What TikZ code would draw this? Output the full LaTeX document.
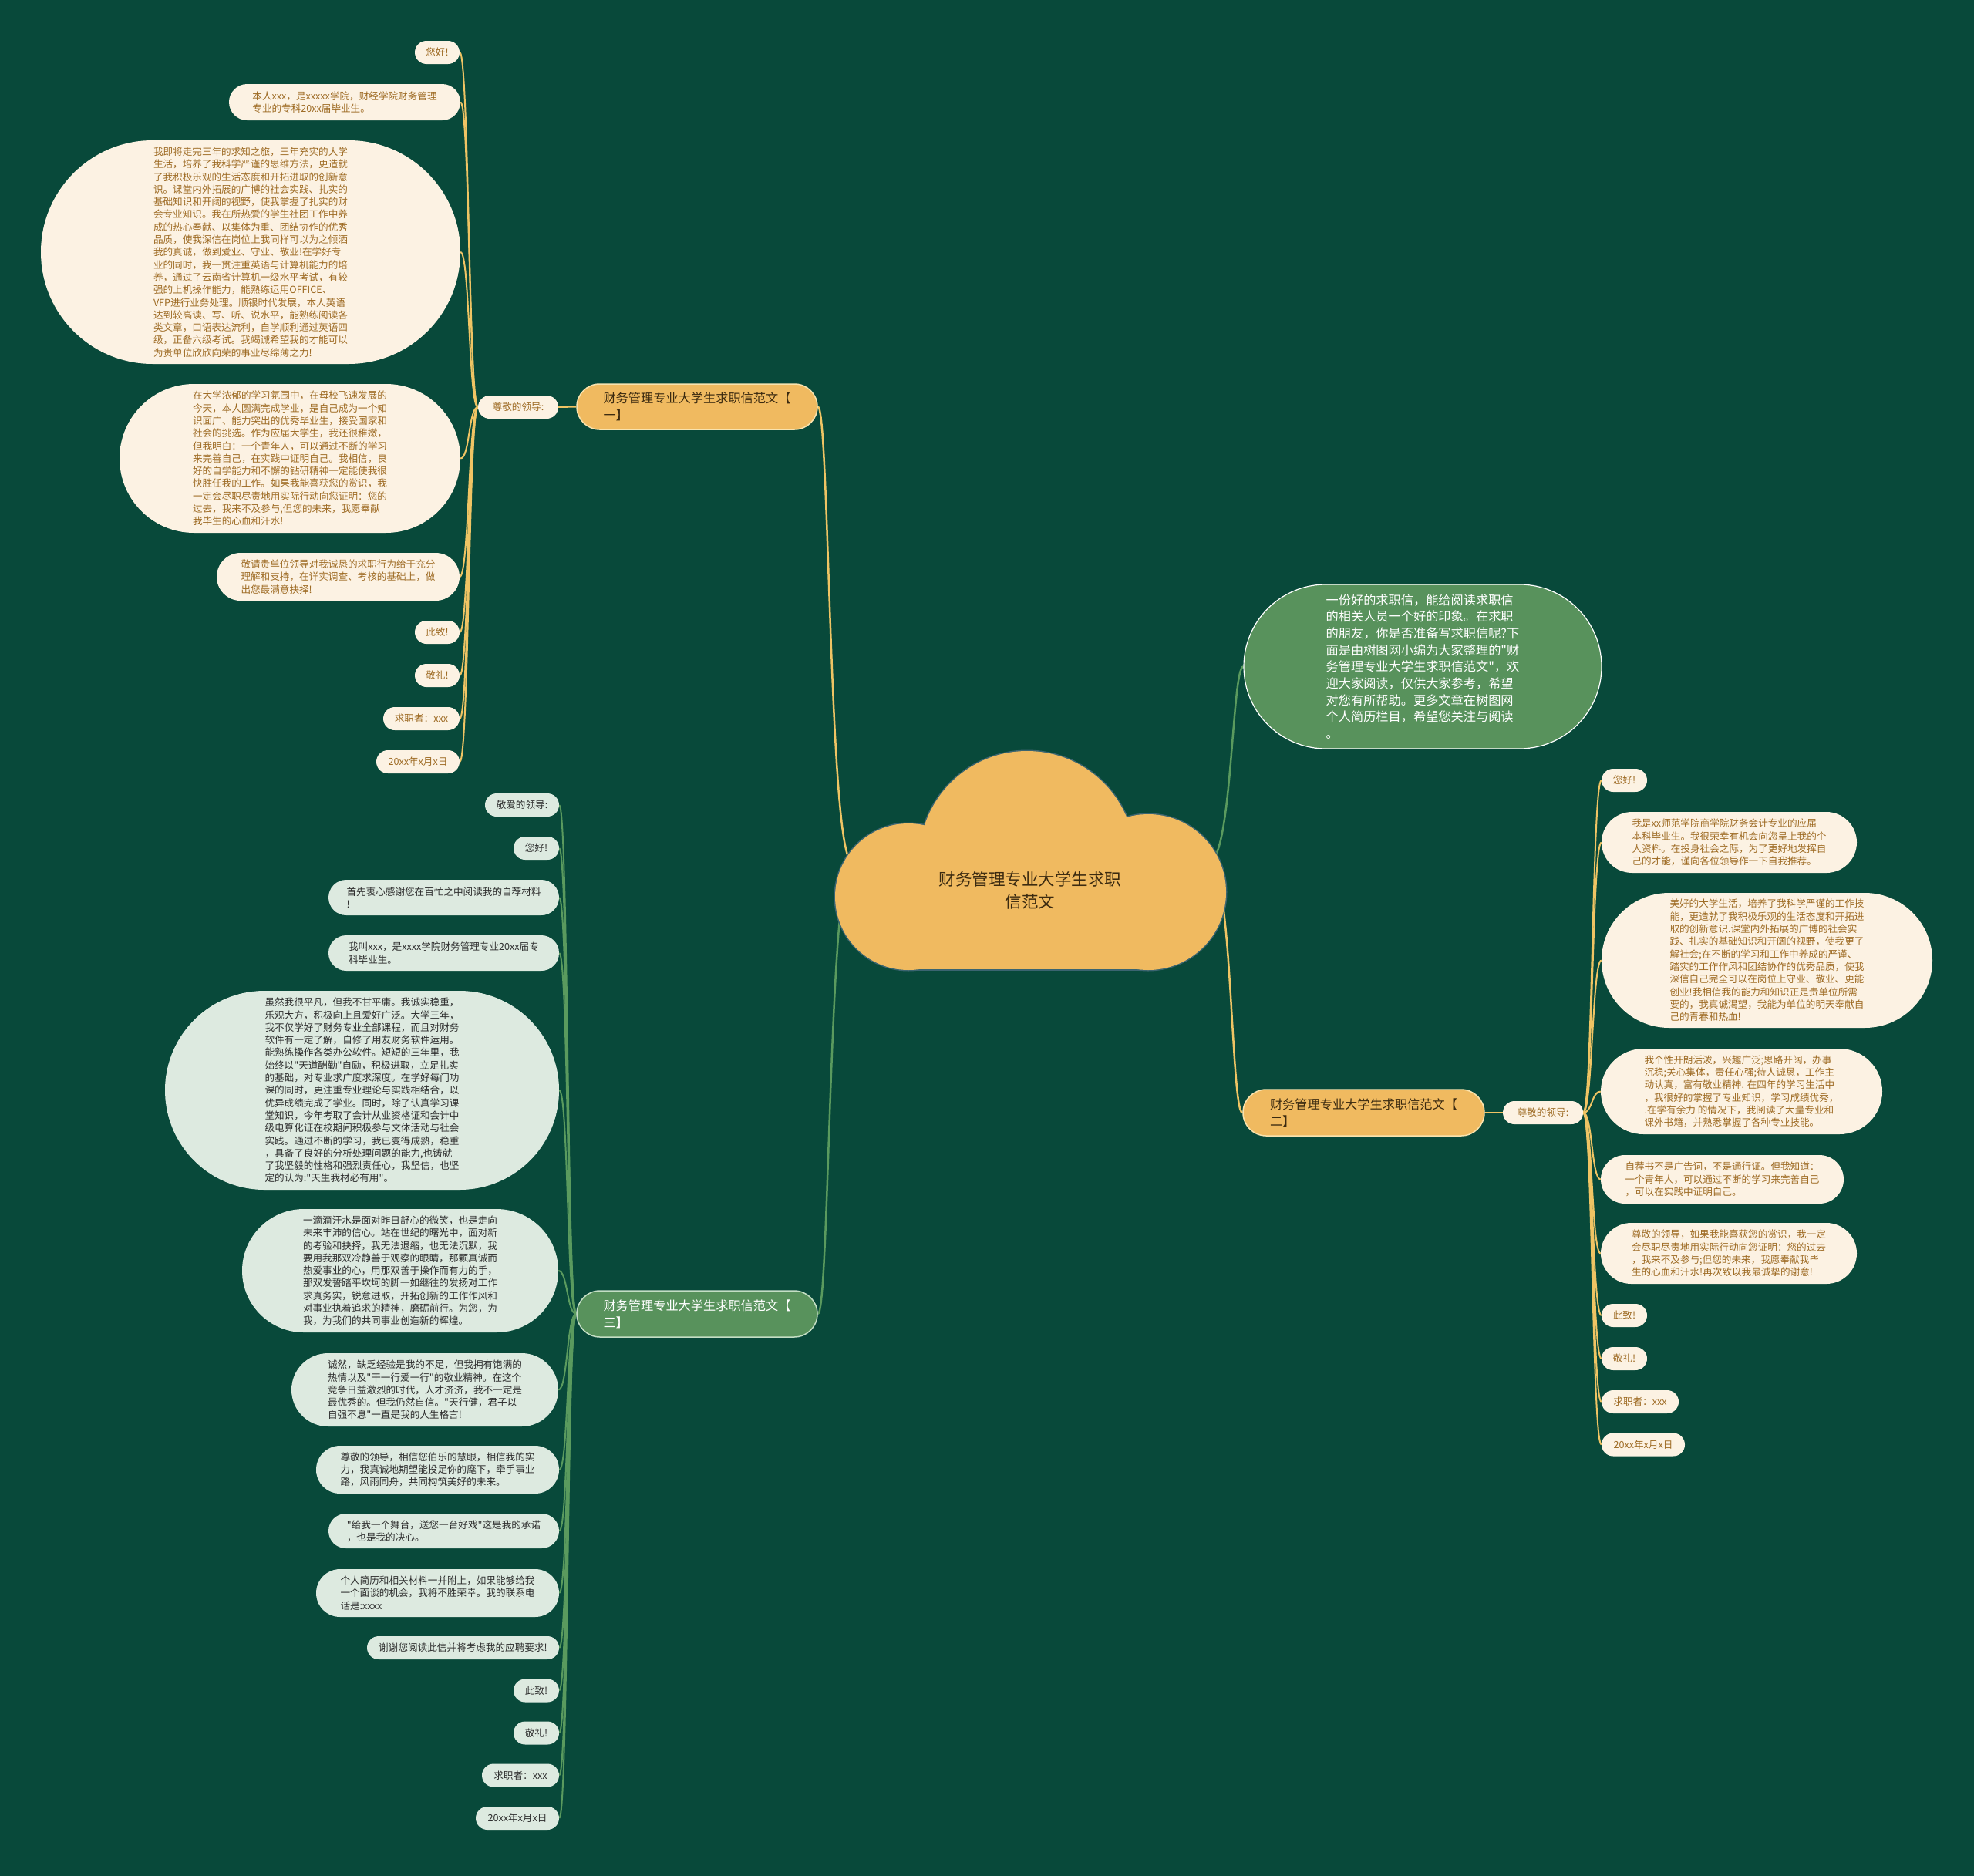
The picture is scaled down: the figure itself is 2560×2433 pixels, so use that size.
\documentclass[tikz,border=0pt]{standalone}
\usepackage{fontspec}
\setmainfont{Noto Sans CJK SC}
\newfontfamily\cjkfont{Noto Sans CJK SC}
\usetikzlibrary{shapes.misc}
\pgfdeclarelayer{bg}
\pgfdeclarelayer{lines}
\pgfsetlayers{bg,lines,main}
\definecolor{cbg}{HTML}{08493A}
\definecolor{corange}{HTML}{F0BA60}
\definecolor{cobord}{HTML}{F9E3AE}
\definecolor{ccream}{HTML}{FCF2E3}
\definecolor{cbrown}{HTML}{9E6B24}
\definecolor{cbtext}{HTML}{3B2A10}
\definecolor{cmgreen}{HTML}{58925C}
\definecolor{cgbord}{HTML}{C4DEC4}
\definecolor{clgreen}{HTML}{DDEAE0}
\definecolor{cdark}{HTML}{2E2E2E}
\definecolor{cyline}{HTML}{EFC464}
\definecolor{cgline}{HTML}{5A9A5E}
\definecolor{ccloud}{HTML}{3A6470}
\newcommand\myleaffont{\cjkfont\fontsize{12.6}{16.3}\selectfont}
\newcommand\mybranchfont{\cjkfont\fontsize{16.2}{21.7}\selectfont}
\newcommand\mycenterfont{\cjkfont\fontsize{21.5}{29}\selectfont}
\begin{document}
\begin{tikzpicture}[x=1pt,y=-1pt,
  sz/.style 2 args={minimum width=#1, minimum height=#2},
  leafbase/.style={rounded rectangle, inner sep=0pt, align=left, font=\myleaffont},
  oleaf/.style={leafbase, fill=ccream, text=cbrown},
  gleaf/.style={leafbase, fill=clgreen, text=cdark},
  obranch/.style={rounded rectangle, inner sep=0pt, align=left, font=\mybranchfont, fill=corange, draw=cobord, line width=1.5pt, text=cbtext},
  gbranch/.style={rounded rectangle, inner sep=0pt, align=left, font=\mybranchfont, fill=cmgreen, draw=cgbord, line width=1.5pt, text=white},
  introbox/.style={rounded rectangle, inner sep=0pt, align=left, font=\mybranchfont, fill=cmgreen, draw=white, line width=1.2pt, text=white},
  oline/.style={draw=cyline, line width=2pt},
  gline/.style={draw=cgline, line width=2pt},
  mainoline/.style={draw=cyline, line width=2.5pt},
  maingline/.style={draw=cgline, line width=2.5pt},
  cloudedge/.style={draw=ccloud, line width=3pt},
  cloudfill/.style={fill=corange}
]
\useasboundingbox (0,0) rectangle (2560,2433);
\begin{pgfonlayer}{bg}
\fill[cbg] (0,0) rectangle (2560,2433);
\end{pgfonlayer}

% ---------- centre cloud ----------
\path[cloudedge] (1332,1114) circle[radius=140];
\path[cloudedge] (1178,1163) circle[radius=95];
\path[cloudedge] (1489,1157) circle[radius=101];
\path[cloudedge] (1190,1143) rectangle (1480,1257);
\path[cloudfill] (1332,1114) circle[radius=140];
\path[cloudfill] (1178,1163) circle[radius=95];
\path[cloudfill] (1489,1157) circle[radius=101];
\path[cloudfill] (1190,1143) rectangle (1480,1257);
\node[font=\mycenterfont, text=cbtext, align=center] (center) at (1336,1155) {财务管理专业大学生求职\\信范文};
\coordinate (cL) at (1105,1117);
\coordinate (cR) at (1568,1117);

% ---------- branch 1 (left, orange) ----------
\node[obranch, sz={312}{59}] (B1) at (904,527.5) {财务管理专业大学生求职信范文【\\一】};
\node[oleaf, sz={104}{30}] (J1) at (672,528) {尊敬的领导:};
\node[oleaf, sz={58}{30}] (L1a) at (567,68) {您好!};
\node[oleaf, sz={300}{47}] (L1b) at (447,132.5) {本人xxx，是xxxxx学院，财经学院财务管理\\专业的专科20xx届毕业生。};
\node[oleaf, sz={544}{290}] (L1c) at (325,327) {我即将走完三年的求知之旅，三年充实的大学\\生活，培养了我科学严谨的思维方法，更造就\\了我积极乐观的生活态度和开拓进取的创新意\\识。课堂内外拓展的广博的社会实践、扎实的\\基础知识和开阔的视野，使我掌握了扎实的财\\会专业知识。我在所热爱的学生社团工作中养\\成的热心奉献、以集体为重、团结协作的优秀\\品质，使我深信在岗位上我同样可以为之倾洒\\我的真诚，做到爱业、守业、敬业!在学好专\\业的同时，我一贯注重英语与计算机能力的培\\养，通过了云南省计算机一级水平考试，有较\\强的上机操作能力，能熟练运用OFFICE、\\VFP进行业务处理。顺银时代发展，本人英语\\达到较高读、写、听、说水平，能熟练阅读各\\类文章，口语表达流利，自学顺利通过英语四\\级，正备六级考试。我竭诚希望我的才能可以\\为贵单位欣欣向荣的事业尽绵薄之力!};
\node[oleaf, sz={442}{193}] (L1d) at (376,594.5) {在大学浓郁的学习氛围中，在母校飞速发展的\\今天，本人圆满完成学业，是自己成为一个知\\识面广、能力突出的优秀毕业生，接受国家和\\社会的挑选。作为应届大学生，我还很稚嫩，\\但我明白：一个青年人，可以通过不断的学习\\来完善自己，在实践中证明自己。我相信，良\\好的自学能力和不懈的钻研精神一定能使我很\\快胜任我的工作。如果我能喜获您的赏识，我\\一定会尽职尽责地用实际行动向您证明：您的\\过去，我来不及参与,但您的未来，我愿奉献\\我毕生的心血和汗水!};
\node[oleaf, sz={315}{62}] (L1e) at (438.5,748) {敬请贵单位领导对我诚恳的求职行为给于充分\\理解和支持，在详实调查、考核的基础上，做\\出您最满意抉择!};
\node[oleaf, sz={58}{30}] (L1f) at (567,820) {此致!};
\node[oleaf, sz={58}{30}] (L1g) at (567,876) {敬礼!};
\node[oleaf, sz={99}{30}] (L1h) at (546.5,932) {求职者：xxx};
\node[oleaf, sz={108}{30}] (L1i) at (542,988) {20xx年x月x日};

% ---------- intro (right, green) ----------
\node[introbox, sz={464}{213}] (intro) at (1845,864.5) {一份好的求职信，能给阅读求职信\\的相关人员一个好的印象。在求职\\的朋友，你是否准备写求职信呢?下\\面是由树图网小编为大家整理的"财\\务管理专业大学生求职信范文"，欢\\迎大家阅读，仅供大家参考，希望\\对您有所帮助。更多文章在树图网\\个人简历栏目，希望您关注与阅读\\。};

% ---------- branch 2 (right, orange) ----------
\node[obranch, sz={313}{60}] (B2) at (1768.5,1443) {财务管理专业大学生求职信范文【\\二】};
\node[oleaf, sz={104}{30}] (J2) at (2001,1443) {尊敬的领导:};
\node[oleaf, sz={59}{30}] (R1) at (2106.5,1012) {您好!};
\node[oleaf, sz={331}{79}] (R2) at (2242.5,1092.5) {我是xx师范学院商学院财务会计专业的应届\\本科毕业生。我很荣幸有机会向您呈上我的个\\人资料。在投身社会之际，为了更好地发挥自\\己的才能，谨向各位领导作一下自我推荐。};
\node[oleaf, sz={429}{175}] (R3) at (2291.5,1245.5) {美好的大学生活，培养了我科学严谨的工作技\\能，更造就了我积极乐观的生活态度和开拓进\\取的创新意识.课堂内外拓展的广博的社会实\\践、扎实的基础知识和开阔的视野，使我更了\\解社会;在不断的学习和工作中养成的严谨、\\踏实的工作作风和团结协作的优秀品质，使我\\深信自己完全可以在岗位上守业、敬业、更能\\创业!我相信我的能力和知识正是贵单位所需\\要的，我真诚渴望，我能为单位的明天奉献自\\己的青春和热血!};
\node[oleaf, sz={365}{111}] (R4) at (2258.5,1415.5) {我个性开朗活泼，兴趣广泛;思路开阔，办事\\沉稳;关心集体，责任心强;待人诚恳，工作主\\动认真，富有敬业精神. 在四年的学习生活中\\，我很好的掌握了专业知识，学习成绩优秀，\\.在学有余力 的情况下，我阅读了大量专业和\\课外书籍，并熟悉掌握了各种专业技能。};
\node[oleaf, sz={315}{63}] (R5) at (2233.5,1529.5) {自荐书不是广告词，不是通行证。但我知道：\\一个青年人，可以通过不断的学习来完善自己\\，可以在实践中证明自己。};
\node[oleaf, sz={332}{79}] (R6) at (2242,1625.5) {尊敬的领导，如果我能喜获您的赏识，我一定\\会尽职尽责地用实际行动向您证明：您的过去\\，我来不及参与;但您的未来，我愿奉献我毕\\生的心血和汗水!再次致以我最诚挚的谢意!};
\node[oleaf, sz={59}{30}] (R7) at (2106.5,1706) {此致!};
\node[oleaf, sz={59}{30}] (R8) at (2106.5,1762) {敬礼!};
\node[oleaf, sz={100}{30}] (R9) at (2127,1818) {求职者：xxx};
\node[oleaf, sz={108}{30}] (R10) at (2131,1873.5) {20xx年x月x日};

% ---------- branch 3 (left, green) ----------
\node[gbranch, sz={312}{60}] (B3) at (904,1704) {财务管理专业大学生求职信范文【\\三】};
\node[gleaf, sz={96}{30}] (G1) at (677,1044) {敬爱的领导:};
\node[gleaf, sz={59}{30}] (G2) at (695.5,1100) {您好!};
\node[gleaf, sz={299}{46}] (G3) at (575.5,1164) {首先衷心感谢您在百忙之中阅读我的自荐材料\\!};
\node[gleaf, sz={299}{46}] (G4) at (575.5,1236) {我叫xxx，是xxxx学院财务管理专业20xx届专\\科毕业生。};
\node[gleaf, sz={511}{258}] (G5) at (469.5,1414) {虽然我很平凡，但我不甘平庸。我诚实稳重，\\乐观大方，积极向上且爱好广泛。大学三年，\\我不仅学好了财务专业全部课程，而且对财务\\软件有一定了解，自修了用友财务软件运用。\\能熟练操作各类办公软件。短短的三年里，我\\始终以"天道酬勤"自励，积极进取，立足扎实\\的基础，对专业求广度求深度。在学好每门功\\课的同时，更注重专业理论与实践相结合，以\\优异成绩完成了学业。同时，除了认真学习课\\堂知识，今年考取了会计从业资格证和会计中\\级电算化证在校期间积极参与文体活动与社会\\实践。通过不断的学习，我已变得成熟，稳重\\，具备了良好的分析处理问题的能力,也铸就\\了我坚毅的性格和强烈责任心，我坚信，也坚\\定的认为:"天生我材必有用"。};
\node[gleaf, sz={410}{160}] (G6) at (519,1648) {一滴滴汗水是面对昨日舒心的微笑，也是走向\\未来丰沛的信心。站在世纪的曙光中，面对新\\的考验和抉择，我无法退缩，也无法沉默，我\\要用我那双冷静善于观察的眼睛，那颗真诚而\\热爱事业的心，用那双善于操作而有力的手，\\那双发誓踏平坎坷的脚一如继往的发扬对工作\\求真务实，锐意进取，开拓创新的工作作风和\\对事业执着追求的精神，磨砺前行。为您，为\\我，为我们的共同事业创造新的辉煌。};
\node[gleaf, sz={346}{95}] (G7) at (551,1802.5) {诚然，缺乏经验是我的不足，但我拥有饱满的\\热情以及"干一行爱一行"的敬业精神。在这个\\竞争日益激烈的时代，人才济济，我不一定是\\最优秀的。但我仍然自信。"天行健，君子以\\自强不息"一直是我的人生格言!};
\node[gleaf, sz={315}{62}] (G8) at (567.5,1906) {尊敬的领导，相信您伯乐的慧眼，相信我的实\\力，我真诚地期望能投足你的麾下，牵手事业\\路，风雨同舟，共同构筑美好的未来。};
\node[gleaf, sz={299}{45}] (G9) at (575.5,1985.5) {"给我一个舞台，送您一台好戏"这是我的承诺\\，也是我的决心。};
\node[gleaf, sz={315}{62}] (G10) at (567.5,2066) {个人简历和相关材料一并附上，如果能够给我\\一个面谈的机会，我将不胜荣幸。我的联系电\\话是:xxxx};
\node[gleaf, sz={249}{30}] (G11) at (600.5,2137) {谢谢您阅读此信并将考虑我的应聘要求!};
\node[gleaf, sz={59}{30}] (G12) at (695.5,2192.5) {此致!};
\node[gleaf, sz={59}{30}] (G13) at (695.5,2247.5) {敬礼!};
\node[gleaf, sz={100}{30}] (G14) at (675,2302.5) {求职者：xxx};
\node[gleaf, sz={108}{30}] (G15) at (671,2358) {20xx年x月x日};

% ---------- connectors ----------
\begin{pgfonlayer}{lines}
\draw[mainoline] (cL) .. controls +(-30,0) and +(15,0) .. (B1.east);
\draw[maingline] (cL) .. controls +(-30,0) and +(15,0) .. (B3.east);
\draw[maingline] (cR) .. controls +(30,0) and +(-15,0) .. (intro.west);
\draw[mainoline] (cR) .. controls +(30,0) and +(-15,0) .. (B2.west);
\draw[oline] (B1.west) -- (J1.east);
\draw[oline] (B2.east) -- (J2.west);
\foreach \n in {L1a,L1b,L1c,L1d,L1e,L1f,L1g,L1h,L1i}
  \draw[oline] (J1.west) .. controls +(-12,0) and +(12,0) .. (\n.east);
\foreach \n in {R1,R2,R3,R4,R5,R6,R7,R8,R9,R10}
  \draw[oline] (J2.east) .. controls +(12,0) and +(-12,0) .. (\n.west);
\foreach \n in {G1,G2,G3,G4,G5,G6,G7,G8,G9,G10,G11,G12,G13,G14,G15}
  \draw[gline] (B3.west) .. controls +(-12,0) and +(12,0) .. (\n.east);
\end{pgfonlayer}
\end{tikzpicture}
\end{document}
